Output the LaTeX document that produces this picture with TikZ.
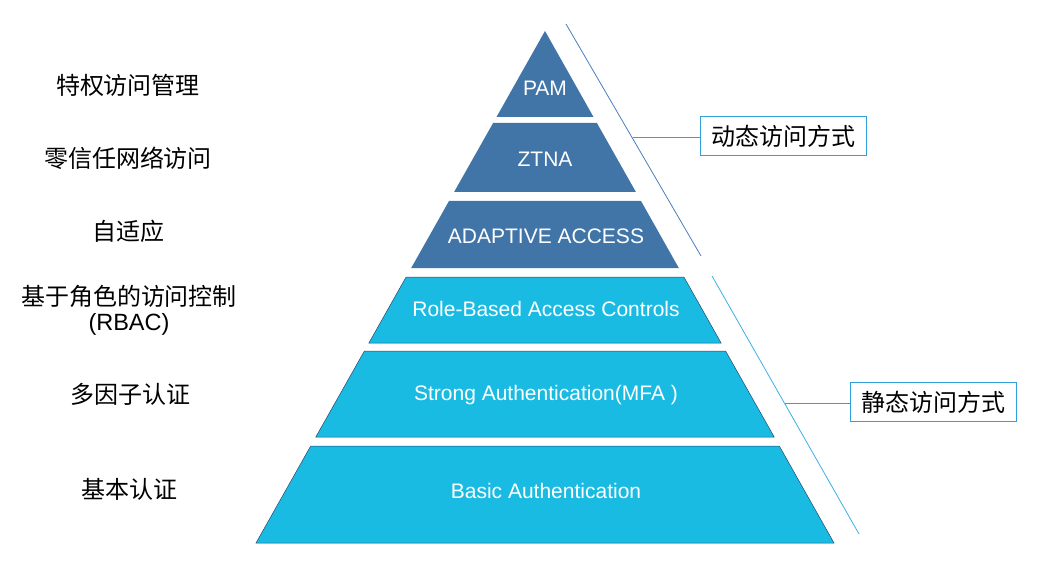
\documentclass[tikz,border=0pt]{standalone}
\usepackage{fontspec}
\setmainfont{Liberation Sans}
\newfontfamily\cjk{Noto Sans CJK SC}
\definecolor{darkblue}{RGB}{65,116,167}
\definecolor{lightcyan}{RGB}{26,187,226}
\definecolor{edgeblue}{RGB}{40,70,110}
\definecolor{slantdark}{RGB}{74,126,187}
\definecolor{slantlight}{RGB}{60,175,232}
\definecolor{boxborder}{RGB}{50,160,215}
\definecolor{leadblue}{RGB}{100,140,190}
\begin{document}
\begin{tikzpicture}[x=1pt,y=-1pt,
  darklayer/.style={fill=darkblue},
  lightlayer/.style={fill=lightcyan,draw=edgeblue,line width=0.5pt},
  intext/.style={text=white,font=\fontsize{21}{25}\selectfont},
  sidelabel/.style={text=black,font=\cjk\fontsize{24}{28}\selectfont,align=center},
  latlabel/.style={text=black,font=\fontsize{23.5}{28}\selectfont},
  callout/.style={draw=boxborder,line width=0.8pt,fill=white,text=black,font=\cjk\fontsize{24}{28}\selectfont,minimum width=166pt,minimum height=39pt,inner sep=0pt},
  lead/.style={draw=leadblue,line width=0.8pt}]
\useasboundingbox (0,0) rectangle (1039,572);
% layers
\fill[darklayer] (545,31) -- (593.5,117) -- (496.5,117) -- cycle;
\fill[darklayer] (493.1,123) -- (596.9,123) -- (635.9,192) -- (454.1,192) -- cycle;
\fill[darklayer] (449,201) -- (641,201) -- (678.8,268) -- (411.2,268) -- cycle;
\filldraw[lightlayer] (406.1,277) -- (683.9,277) -- (721.1,343) -- (368.9,343) -- cycle;
\filldraw[lightlayer] (364.4,351) -- (725.6,351) -- (774.2,437) -- (315.8,437) -- cycle;
\filldraw[lightlayer] (310.7,446) -- (779.3,446) -- (834,543) -- (256,543) -- cycle;
% layer texts
\node[intext] (pam) at (545,88) {PAM};
\node[intext] (ztna) at (545,159) {ZTNA};
\node[intext] (adapt) at (546,236) {ADAPTIVE ACCESS};
\node[intext] (rbac) at (546,309) {Role-Based Access Controls};
\node[intext] (mfa) at (546,395) {Strong Authentication(MFA )};
\node[intext] (basic) at (546,491) {Basic Authentication};
% side labels
\node[sidelabel] (l1) at (128,85) {特权访问管理};
\node[sidelabel] (l2) at (128,158) {零信任网络访问};
\node[sidelabel] (l3) at (128,231) {自适应};
\node[sidelabel] (l4) at (129,296) {基于角色的访问控制};
\node[latlabel] (l4b) at (129,324) {(RBAC)};
\node[sidelabel] (l5) at (130,394) {多因子认证};
\node[sidelabel] (l6) at (129,489) {基本认证};
% slant lines
\coordinate (s1a) at (566,24);
\coordinate (s1b) at (701,256);
\coordinate (s2a) at (712,276);
\coordinate (s2b) at (859,534);
\draw[slantdark,line width=0.8pt] (s1a) -- (s1b);
\draw[slantlight,line width=0.8pt] (s2a) -- (s2b);
% callouts
\node[callout] (dyn) at (783,136) {动态访问方式};
\node[callout] (sta) at (933.5,402) {静态访问方式};
\coordinate (c1) at (633,137);
\coordinate (c2) at (785,403);
\draw[lead] (c1) -- (dyn.west |- c1);
\draw[lead] (c2) -- (sta.west |- c2);
\end{tikzpicture}
\end{document}
